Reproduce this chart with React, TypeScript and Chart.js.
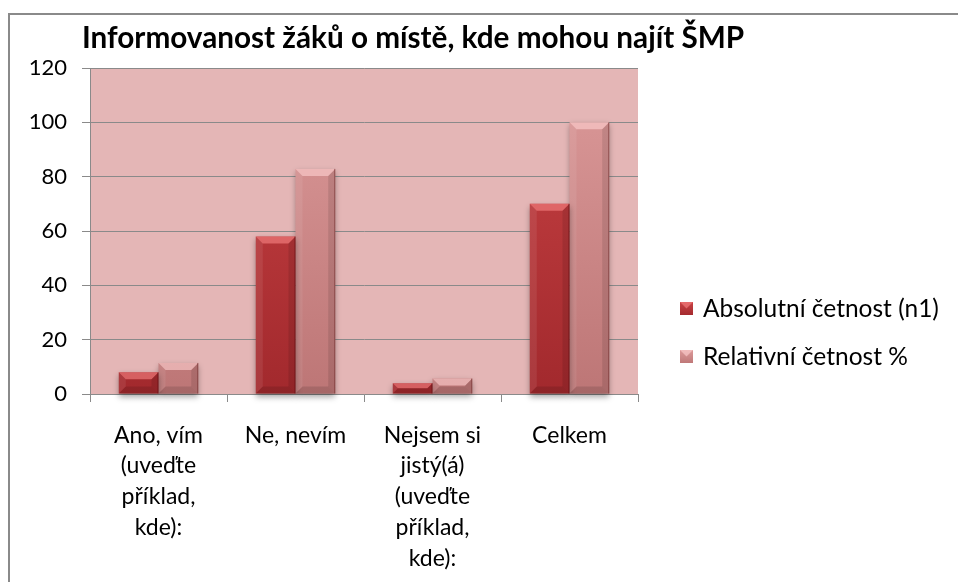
import React, { useEffect, useRef } from "react";
import { Chart, registerables } from "chart.js";

Chart.register(...registerables);

const TITLE = "Informovanost žáků o místě, kde mohou najít ŠMP";
const categories: string[][] = [
  ["Ano, vím", "(uveďte", "příklad,", "kde):"],
  ["Ne, nevím"],
  ["Nejsem si", "jistý(á)", "(uveďte", "příklad,", "kde):"],
  ["Celkem"],
];
const seriesNames = ["Absolutní četnost (n1)", "Relativní četnost %"];
const absoluteValues = [8, 58, 4, 70];
const relativeValues = [11.43, 82.86, 5.71, 100];
const yTicks = { min: 0, max: 120, step: 20 };

const FONT = "Lato, 'Open Sans', sans-serif";
const W = 958;
const H = 582;

const palette = [
  { top: "#c94345", bottom: "#a2292d", bevel: "rgba(255,140,140,0.55)", dark: "rgba(90,10,12,0.55)", swatch: "#b83236" },
  { top: "#dc9a9a", bottom: "#bd7676", bevel: "rgba(255,210,210,0.6)", dark: "rgba(110,40,40,0.55)", swatch: "#c98484" },
];

const framePlugin = {
  id: "frame",
  beforeDraw(chart: any) {
    const ctx = chart.ctx;
    ctx.save();
    ctx.fillStyle = "#ffffff";
    ctx.fillRect(0, 0, W, H);
    ctx.strokeStyle = "#8a8a8a";
    ctx.lineWidth = 2;
    ctx.beginPath();
    ctx.moveTo(9, H);
    ctx.lineTo(9, 14);
    ctx.lineTo(W, 14);
    ctx.stroke();
    const a = chart.chartArea;
    ctx.fillStyle = "#e4b6b6";
    ctx.fillRect(a.left, a.top, a.right - a.left, a.bottom - a.top);
    ctx.fillStyle = "#000";
    ctx.font = `bold 29.7px ${FONT}`;
    ctx.textBaseline = "middle";
    ctx.textAlign = "left";
    ctx.fillText(TITLE, 82, 38);
    ctx.restore();
  },
  beforeDatasetsDraw(chart: any) {
    const ctx = chart.ctx;
    ctx.save();
    ctx.shadowColor = "rgba(0,0,0,0.35)";
    ctx.shadowBlur = 6;
    ctx.shadowOffsetY = 3;
  },
  afterDatasetsDraw(chart: any) {
    const ctx = chart.ctx;
    ctx.restore();
    chart.data.datasets.forEach((ds: any, i: number) => {
      const meta = chart.getDatasetMeta(i);
      const p = palette[i];
      meta.data.forEach((bar: any) => {
        const l = bar.x - bar.width / 2;
        const r = bar.x + bar.width / 2;
        const t = bar.y;
        const b = bar.base;
        const h = b - t;
        const bv = Math.min(7, h / 2, bar.width / 2);
        ctx.save();
        ctx.fillStyle = p.bevel;
        ctx.beginPath();
        ctx.moveTo(l, t);
        ctx.lineTo(r, t);
        ctx.lineTo(r - bv, t + bv);
        ctx.lineTo(l + bv, t + bv);
        ctx.closePath();
        ctx.fill();
        ctx.fillStyle = "rgba(255,255,255,0.08)";
        ctx.beginPath();
        ctx.moveTo(l, t);
        ctx.lineTo(l + bv, t + bv);
        ctx.lineTo(l + bv, b - bv);
        ctx.lineTo(l, b);
        ctx.closePath();
        ctx.fill();
        ctx.fillStyle = "rgba(0,0,0,0.10)";
        ctx.beginPath();
        ctx.moveTo(r, t);
        ctx.lineTo(r - bv, t + bv);
        ctx.lineTo(r - bv, b - bv);
        ctx.lineTo(r, b);
        ctx.closePath();
        ctx.fill();
        ctx.fillStyle = "rgba(0,0,0,0.12)";
        ctx.beginPath();
        ctx.moveTo(l, b);
        ctx.lineTo(l + bv, b - bv);
        ctx.lineTo(r - bv, b - bv);
        ctx.lineTo(r, b);
        ctx.closePath();
        ctx.fill();
        ctx.strokeStyle = p.dark;
        ctx.lineWidth = 1;
        ctx.beginPath();
        ctx.moveTo(r - 0.5, t);
        ctx.lineTo(r - 0.5, b);
        ctx.stroke();
        ctx.restore();
      });
    });
  },
  afterDraw(chart: any) {
    const ctx = chart.ctx;
    ctx.save();
    const ys = [309, 357];
    chart.data.datasets.forEach((ds: any, i: number) => {
      const p = palette[i];
      const y = ys[i];
      const g = ctx.createLinearGradient(0, y - 7, 0, y + 7);
      g.addColorStop(0, p.top);
      g.addColorStop(1, p.bottom);
      ctx.fillStyle = g;
      ctx.fillRect(680, y - 7, 13, 13);
      ctx.fillStyle = p.bevel;
      ctx.beginPath();
      ctx.moveTo(680, y - 7);
      ctx.lineTo(693, y - 7);
      ctx.lineTo(686.5, y - 0.5);
      ctx.closePath();
      ctx.fill();
      ctx.fillStyle = "#000";
      ctx.font = `24.5px ${FONT}`;
      ctx.textBaseline = "middle";
      ctx.textAlign = "left";
      ctx.fillText(ds.label, 703, y);
    });
    ctx.restore();
  },
};

function gradientFor(i: number) {
  return (c: any) => {
    const chart = c.chart;
    const a = chart.chartArea;
    if (!a) return palette[i].swatch;
    const g = chart.ctx.createLinearGradient(0, a.top, 0, a.bottom);
    g.addColorStop(0, palette[i].top);
    g.addColorStop(1, palette[i].bottom);
    return g;
  };
}

export default function App() {
  const ref = useRef<HTMLCanvasElement | null>(null);
  useEffect(() => {
    if (!ref.current) return;
    const chart = new Chart(ref.current, {
      type: "bar",
      data: {
        labels: categories,
        datasets: [
          { label: seriesNames[0], data: absoluteValues, backgroundColor: gradientFor(0), borderWidth: 0, categoryPercentage: 0.58, barPercentage: 1, clip: false },
          { label: seriesNames[1], data: relativeValues, backgroundColor: gradientFor(1), borderWidth: 0, categoryPercentage: 0.58, barPercentage: 1, clip: false },
        ],
      },
      options: {
        responsive: false,
        animation: false,
        devicePixelRatio: 1,
        layout: { padding: { top: 68, right: 320, left: 0, bottom: 0 } },
        plugins: {
          legend: { display: false },
          title: { display: false },
          tooltip: { enabled: false },
        },
        scales: {
          x: {
            afterFit: (s: any) => { s.height = H - 394; },
            grid: { drawOnChartArea: false, color: "#8a8a8a", tickLength: 8, offset: true },
            border: { color: "#8a8a8a", width: 1 },
            ticks: {
              color: "#000",
              font: { family: FONT, size: 23, lineHeight: 1.335 },
              padding: 18,
              maxRotation: 0,
              autoSkip: false,
            },
          },
          y: {
            min: yTicks.min,
            max: yTicks.max,
            afterFit: (s: any) => { s.width = 90; },
            grid: { color: "#8a8a8a", tickLength: 8 },
            border: { color: "#8a8a8a", width: 1 },
            ticks: {
              stepSize: yTicks.step,
              color: "#000",
              font: { family: FONT, size: 22 },
              padding: 15,
            },
          },
        },
      },
      plugins: [framePlugin],
    });
    return () => chart.destroy();
  }, []);
  return (
    <div style={{ position: "absolute", left: 0, top: 0, width: W, height: H }}>
      <canvas ref={ref} width={W} height={H} style={{ width: W, height: H, display: "block" }} />
    </div>
  );
}
